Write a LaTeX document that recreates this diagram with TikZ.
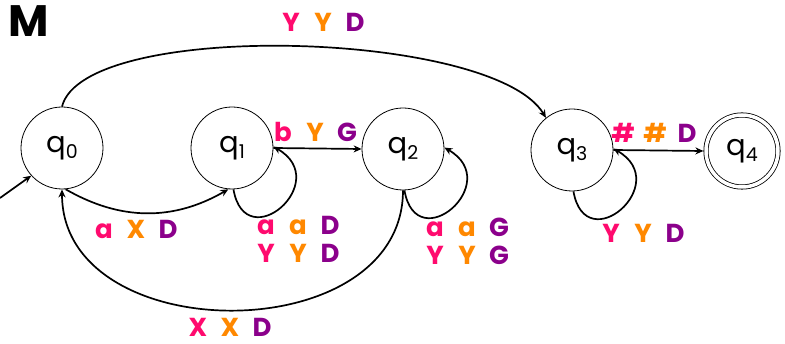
\documentclass[tikz,border=0pt]{standalone}
\usepackage{fontspec}
\usetikzlibrary{arrows.meta}
\setmainfont{Poppins}
\definecolor{mpink}{RGB}{255,10,110}
\definecolor{morange}{RGB}{255,136,0}
\definecolor{mpurple}{RGB}{139,0,139}
\newcommand\trio[3]{\makebox[32pt]{\color{mpink}#1}\makebox[32pt]{\color{morange}#2}\makebox[32pt]{\color{mpurple}#3}}
\newcommand\qsub[1]{q\raisebox{-6pt}{\fontsize{19}{19}\selectfont #1}}
\begin{document}
\begin{tikzpicture}[x=1pt,y=1pt,
  state/.style={circle,draw,line width=0.8pt,minimum size=82pt,inner sep=0pt,font=\fontsize{29}{29}\selectfont},
  edge/.style={line width=1.7pt,-{Stealth[length=8pt,width=7pt]}},
  lbl/.style={inner sep=0pt,font=\fontsize{26}{28}\selectfont\bfseries,align=center}]
\useasboundingbox (0,0) rectangle (785,-344);
\node[state] (q0) at (62,-148) {\qsub{0}};
\node[state] (q1) at (232,-148) {\qsub{1}};
\node[state] (q2) at (403,-149) {\qsub{2}};
\node[state] (q3) at (572,-150) {\qsub{3}};
\node[state,double,double distance=3.5pt,minimum size=72pt,outer sep=2.6pt] (q4) at (742,-151) {\qsub{4}};
\node[font=\fontsize{44}{44}\selectfont\bfseries,inner sep=0pt] (M) at (29,-21) {M};
\coordinate (s) at (0,-198);
\draw[edge] (s) -- (q0.222);
\draw[edge] (q0.-85) to[out=-30,in=210] (q1.-95);
\draw[edge] (q2.-90) to[out=-90,in=-90,looseness=1.2] (q0.-90);
\draw[edge] (q0.north) .. controls (84,-19) and (493,-30) .. (q3.129);
\draw[edge] (q1.-88) .. controls +(-80:70) and +(-30:70) .. (q1.2);
\draw[edge] (q2.-88) .. controls +(-80:70) and +(-30:70) .. (q2.2);
\draw[edge] (q3.-88) .. controls +(-80:70) and +(-30:70) .. (q3.2);
\draw[edge] (q1.east) -- (q2.west);
\draw[edge] (q3.east) -- (q4.west);
\node[lbl] (l01) at (136,-229) {\trio{a}{X}{D}};
\node[lbl] (l11) at (298,-239) {\trio{a}{a}{D}\\\trio{Y}{Y}{D}};
\node[lbl] (l12) at (315,-132) {\trio{b}{Y}{G}};
\node[lbl] (l22) at (467,-241) {\trio{a}{a}{G}\\\trio{Y}{Y}{G}};
\node[lbl] (l20) at (230,-327) {\trio{X}{X}{D}};
\node[lbl] (l03) at (323,-22) {\trio{Y}{Y}{D}};
\node[lbl] (l33) at (643,-233) {\trio{Y}{Y}{D}};
\node[lbl] (l34) at (655,-133) {\trio{\#}{\#}{D}};
\end{tikzpicture}
\end{document}
